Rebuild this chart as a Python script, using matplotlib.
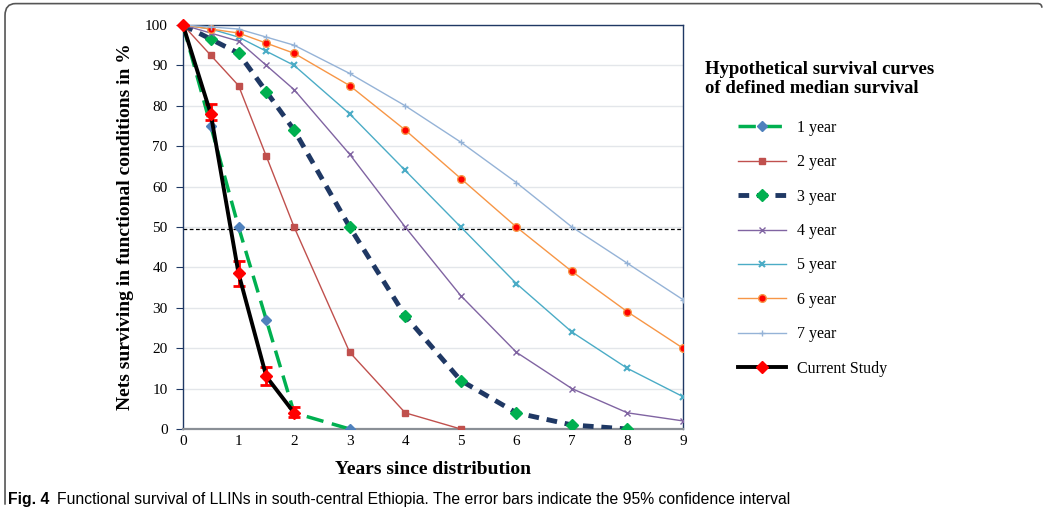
import numpy as np
import matplotlib.pyplot as plt
from matplotlib.path import Path
from matplotlib.patches import PathPatch

# years since distribution for each curve
x_1yr = [0, 0.5, 1, 1.5, 2, 3]
y_1yr = [100, 75, 50, 27, 4, 0]
x_2yr = [0, 0.5, 1, 1.5, 2, 3, 4, 5]
y_2yr = [100, 92.5, 85, 67.5, 50, 19, 4, 0]
x_3yr = [0, 0.5, 1, 1.5, 2, 3, 4, 5, 6, 7, 8]
y_3yr = [100, 96.5, 93, 83.5, 74, 50, 28, 12, 4, 1, 0]
x_long = [0, 0.5, 1, 1.5, 2, 3, 4, 5, 6, 7, 8, 9]
y_4yr = [100, 98, 96, 90, 84, 68, 50, 33, 19, 10, 4, 2]
y_5yr = [100, 99, 97, 93.5, 90, 78, 64, 50, 36, 24, 15, 8]
y_6yr = [100, 99, 98, 95.5, 93, 85, 74, 62, 50, 39, 29, 20]
y_7yr = [100, 99.5, 99, 97, 95, 88, 80, 71, 61, 50, 41, 32]

# current study with 95% CI
x_study = [0, 0.5, 1, 1.5, 2]
y_study = [100, 78, 38.5, 13, 4]
ci_low = [100, 76.5, 35.5, 11, 3]
ci_high = [100, 80.5, 41.5, 15.3, 5.4]

median_line = 49.5

serif = ['Liberation Serif', 'DejaVu Serif']
plt.rcParams['font.family'] = serif

fig = plt.figure(figsize=(10.45, 5.15), dpi=100)
ax = fig.add_axes([0.1751, 0.167, 0.4785, 0.7845])

ax.set_xlim(0, 9)
ax.set_ylim(0, 100)
ax.set_yticks(np.arange(0, 101, 10))
ax.set_xticks(np.arange(0, 10, 1))
ax.grid(axis='y', color='#e3e6ea', lw=1)
ax.set_axisbelow(True)
for s in ['left', 'top', 'right']:
    ax.spines[s].set_color('#1f3864')
    ax.spines[s].set_linewidth(1.0)
ax.spines['bottom'].set_color('#8a8f96')
ax.spines['bottom'].set_linewidth(1.6)
ax.tick_params(axis='y', direction='out', length=5, color='#1f3864', labelsize=11, pad=6)
ax.tick_params(axis='x', length=0, labelsize=11, pad=4)

ax.axhline(median_line, color='black', lw=0.9, ls=(0, (3, 2)), zorder=2, clip_on=False)

h = []
h += ax.plot(x_1yr, y_1yr, color='#00b050', lw=2.5, ls=(0, (5, 2.5)), marker='D', ms=5,
             mfc='#4f81bd', mec='#4f81bd', label='1 year', zorder=4)
h += ax.plot(x_2yr, y_2yr, color='#c0504d', lw=1.0, marker='s', ms=5,
             mfc='#c0504d', mec='#c0504d', label='2 year', zorder=3)
h += ax.plot(x_3yr, y_3yr, color='#1f3864', lw=3.5, ls=(0, (2.2, 1.6)), marker='D', ms=6.5,
             mfc='#00b050', mec='#00b050', label='3 year', zorder=3)
h += ax.plot(x_long, y_4yr, color='#8064a2', lw=1.0, marker='x', ms=5, mew=1.0,
             label='4 year', zorder=3)
h += ax.plot(x_long, y_5yr, color='#4bacc6', lw=1.0, marker='x', ms=5, mew=1.5,
             label='5 year', zorder=3)
h += ax.plot(x_long, y_6yr, color='#f79646', lw=1.0, marker='o', ms=5.5,
             mfc='red', mec='#f79646', label='6 year', zorder=3)
h += ax.plot(x_long, y_7yr, color='#95b3d7', lw=1.0, marker='+', ms=5, mew=1.0,
             label='7 year', zorder=3)

yerr = [np.array(y_study) - np.array(ci_low), np.array(ci_high) - np.array(y_study)]
ax.errorbar(x_study, y_study, yerr=yerr, fmt='none', ecolor='red', elinewidth=2,
            capsize=4, capthick=2, zorder=5)
h += ax.plot(x_study, y_study, color='black', lw=2.8, marker='D', ms=6,
             mfc='red', mec='red', label='Current Study', zorder=6, clip_on=False)

ax.set_xlabel('Years since distribution', fontsize=14, fontweight='bold', labelpad=10)
ax.set_ylabel('Nets surviving in functional conditions in %', fontsize=14, fontweight='bold',
              labelpad=8)

fig.text(0.6746, 0.8466, 'Hypothetical survival curves\nof defined median survival',
         fontsize=13.5, fontweight='bold', va='center', ha='left', linespacing=1.2)
fig.legend(handles=h, loc='upper left', bbox_to_anchor=(0.7065, 0.767), frameon=False,
           fontsize=11.5, handlelength=3.0, handletextpad=0.7, labelspacing=1.15,
           borderpad=0, borderaxespad=0)

cap_font = ['Liberation Sans', 'DejaVu Sans']
fig.text(0.0077, 0.022, 'Fig. 4', fontsize=11.3, fontweight='bold', family=cap_font)
fig.text(0.0545, 0.022, 'Functional survival of LLINs in south-central Ethiopia. '
         'The error bars indicate the 95% confidence interval', fontsize=11.3,
         family=cap_font)

# rounded frame on top and left
r = 0.02
verts = [(0.0048, 0.02), (0.0048, 0.97), (0.0048, 0.993), (0.0048 + r * 0.5, 0.993),
         (0.993, 0.993), (0.997, 0.993), (0.997, 0.985)]
codes = [Path.MOVETO, Path.LINETO, Path.CURVE3, Path.CURVE3, Path.LINETO, Path.CURVE3, Path.CURVE3]
fig.patches.append(PathPatch(Path(verts, codes), transform=fig.transFigure, fill=False,
                             edgecolor='#555555', lw=1.2))

fig.savefig('out.png', dpi=100)
